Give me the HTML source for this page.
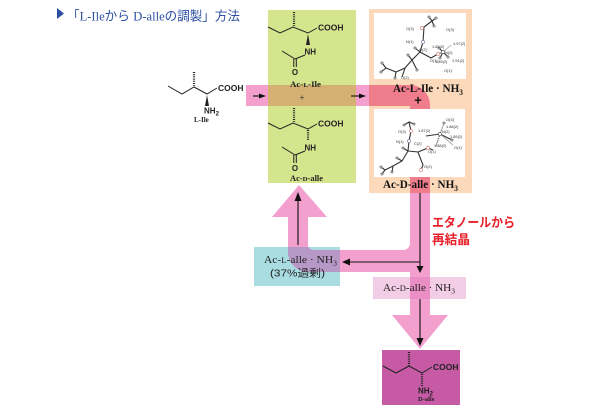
<!DOCTYPE html>
<html><head><meta charset="utf-8"><style>
html,body{margin:0;padding:0;background:#fff;}
svg{display:block}
.s{font-family:"Liberation Sans","Noto Sans CJK JP",sans-serif}
.r{font-family:"Liberation Serif","Noto Serif CJK SC",serif}
.t{font-family:"Liberation Sans",sans-serif;font-size:3.9px;fill:#333}
</style></head><body>
<svg width="610" height="410" viewBox="0 0 610 410" xmlns="http://www.w3.org/2000/svg">
<defs>
<path id="band" d="M246,85 H410 A20,20 0 0 1 430,105 V315 H448 L420,349 L392,315 H410 V272 H308 A20,20 0 0 1 288,252 V217 H272 L299,185 L327,217 H308 V245 A5,5 0 0 0 313,250 H403 A7,7 0 0 0 410,243 V106 H246 Z"/>
<clipPath id="cg"><rect x="268" y="10" width="88" height="173"/></clipPath>
<clipPath id="co"><rect x="369" y="9" width="103" height="184"/></clipPath>
<clipPath id="cb"><rect x="254" y="247" width="86" height="39"/></clipPath>
<clipPath id="cp"><rect x="373" y="277" width="93" height="22"/></clipPath>
</defs>
<rect width="610" height="410" fill="#fff"/>

<!-- title -->
<polygon points="57,8 64,13.5 57,19" fill="#2d4fa3"/>
<text x="67" y="20.5" font-size="13" fill="#2d4fa3" class="s" textLength="173" lengthAdjust="spacingAndGlyphs">「<tspan class="r">L-Ile</tspan>から <tspan class="r">D-alle</tspan>の調製」方法</text>

<!-- boxes -->
<rect x="268" y="10" width="88" height="173" fill="#d5e58e"/>
<rect x="369" y="9" width="103" height="184" fill="#fcd9bb"/>
<rect x="254" y="247" width="86" height="39" fill="#a9dde2"/>
<rect x="373" y="277" width="93" height="22" fill="#f3cde6"/>

<!-- pink band -->
<use href="#band" fill="#f3a0cf"/>
<g clip-path="url(#cg)"><use href="#band" fill="#d4b072"/></g>
<g clip-path="url(#co)"><use href="#band" fill="#ef7d8c"/></g>
<g clip-path="url(#cb)"><use href="#band" fill="#b898c6"/></g>
<g clip-path="url(#cp)"><use href="#band" fill="#ea8ec5"/></g>

<!-- magenta box -->
<rect x="382" y="350" width="78" height="55" fill="#c65aa5"/>

<!-- white ORTEP boxes -->
<rect x="374" y="13" width="92" height="66" fill="#fff"/>
<rect x="374" y="109" width="91" height="68" fill="#fff"/>

<!-- ORTEP 1 -->
<g stroke="#333" stroke-width="1.1" fill="none">
<polyline points="436,18 432,21 424,27 423,42 420,52 412,60 405,68 396,72 386,68"/>
<polyline points="420,52 431,58 438,54"/>
<polyline points="412,60 417,70"/>
<polyline points="405,68 402,77"/>
<line x1="386" y1="68" x2="382" y2="63"/>
<line x1="386" y1="68" x2="381" y2="72"/>
<line x1="396" y1="72" x2="395" y2="78"/>
<line x1="432" y1="21" x2="434" y2="26"/>
<line x1="432" y1="21" x2="429" y2="17"/>
<line x1="420" y1="52" x2="415" y2="48"/>
<line x1="412" y1="60" x2="408" y2="55"/>
<line x1="443" y1="52" x2="451" y2="45" stroke="#bbb"/>
<line x1="443" y1="52" x2="440" y2="58"/>
<line x1="443" y1="52" x2="448" y2="57"/>
<line x1="443" y1="52" x2="439" y2="48"/>
<line x1="438" y1="54" x2="443" y2="52" stroke-dasharray="1,1"/>
</g>
<g fill="#fff" stroke="#444" stroke-width="0.6">
<circle cx="422" cy="28" r="1.6" stroke="#c77"/><circle cx="423" cy="42" r="1.6" stroke="#669"/>
<circle cx="436" cy="18" r="1.1"/><circle cx="434" cy="26" r="1.1"/><circle cx="429" cy="17" r="1.1"/>
<circle cx="381" cy="72" r="1.1"/><circle cx="382" cy="63" r="1.1"/><circle cx="395" cy="78" r="1.1"/>
<circle cx="415" cy="48" r="1.1"/><circle cx="408" cy="55" r="1.1"/><circle cx="417" cy="70" r="1.1"/>
<circle cx="438" cy="54" r="1.6" stroke="#c77"/><circle cx="443" cy="52" r="1.6"/>
<circle cx="440" cy="58" r="1.1"/><circle cx="448" cy="57" r="1.1"/><circle cx="439" cy="48" r="1.1"/>
</g>
<text class="t" x="406" y="30">O(3)</text><text class="t" x="406" y="43">N(1)</text>
<text class="t" x="419" y="51">O(2)'</text><text class="t" x="401" y="79">O(2)</text>
<text class="t" x="430" y="62">O(1)</text><text class="t" x="445" y="54">N(2)</text>
<text class="t" x="446" y="31">O(3)'</text><text class="t" x="444" y="72">O(1)'</text>
<text class="t" x="432" y="48">1.82(2)</text><text class="t" x="453" y="45">1.97(2)</text>
<text class="t" x="452" y="62">1.91(2)</text><text class="t" x="435" y="63">1.89(2)</text>

<!-- ORTEP 2 -->
<g stroke="#333" stroke-width="1.1" fill="none">
<polyline points="404,125 409,122 414,124"/>
<polyline points="409,122 411,131 409,141 408,151 402,161 393,166 385,170"/>
<polyline points="408,151 418,152 423,165 421,170"/>
<polyline points="418,152 428,148 433,150"/>
<line x1="385" y1="170" x2="381" y2="167"/><line x1="385" y1="170" x2="382" y2="174"/>
<line x1="393" y1="166" x2="392" y2="172"/><line x1="402" y1="161" x2="397" y2="158"/>
<line x1="408" y1="151" x2="403" y2="148"/>
<line x1="440" y1="134" x2="444" y2="123" stroke="#aaa"/>
<line x1="440" y1="134" x2="452" y2="140"/>
<line x1="440" y1="134" x2="426" y2="136"/>
<line x1="440" y1="134" x2="436" y2="146" stroke-dasharray="1,1"/>
<line x1="440" y1="134" x2="453" y2="145" stroke="#aaa"/>
</g>
<g fill="#fff" stroke="#444" stroke-width="0.6">
<circle cx="411" cy="131" r="1.6" stroke="#c77"/><circle cx="409" cy="141" r="1.6" stroke="#669"/>
<circle cx="404" cy="125" r="1.1"/><circle cx="414" cy="124" r="1.1"/>
<circle cx="381" cy="167" r="1.1"/><circle cx="382" cy="174" r="1.1"/><circle cx="392" cy="172" r="1.1"/>
<circle cx="397" cy="158" r="1.1"/><circle cx="403" cy="148" r="1.1"/>
<circle cx="428" cy="148" r="1.6" stroke="#c77"/><circle cx="421" cy="170" r="1.6" stroke="#c77"/>
<circle cx="440" cy="134" r="1.6"/><circle cx="444" cy="123" r="1.1"/><circle cx="452" cy="140" r="1.1"/>
</g>
<text class="t" x="398" y="133">O(3)</text><text class="t" x="396" y="143">N(1)</text>
<text class="t" x="414" y="145">C(2)'</text><text class="t" x="424" y="168">O(2)</text>
<text class="t" x="428" y="153">O(1)</text><text class="t" x="442" y="133">N(2)</text>
<text class="t" x="446" y="121">O(3)'</text><text class="t" x="446" y="128">1.88(2)</text>
<text class="t" x="418" y="132">1.87(2)</text><text class="t" x="450" y="138">1.89(2)</text>
<text class="t" x="454" y="149">O(1)'</text><text class="t" x="434" y="147">1.88(2)</text>

<!-- L-Ile molecule -->
<g stroke="#222" stroke-width="1" fill="none">
<polyline points="168,86 182,94 194,87 207,94 217,88"/>
<line x1="194" y1="72" x2="194" y2="86" stroke-width="2.2" stroke-dasharray="1,1.2"/>
</g>
<polygon points="207,95 205,106 209,106" fill="#222"/>
<text x="218" y="91" class="s" font-size="8.5" font-weight="bold" fill="#222">COOH</text>
<text x="204" y="113.5" class="s" font-size="8" font-weight="bold" fill="#222">NH<tspan font-size="6" dy="2">2</tspan></text>
<text x="194" y="122" class="r" font-size="7" font-weight="bold" fill="#222">L-Ile</text>

<!-- green box molecules -->
<g id="m1">
<g stroke="#222" stroke-width="1" fill="none">
<polyline points="268,27 280,33 293,27 308,33 317,28"/>
<line x1="294" y1="12" x2="294" y2="26" stroke-width="2.2" stroke-dasharray="1,1.2"/>
<line x1="305" y1="55" x2="295" y2="59"/>
<line x1="295" y1="59" x2="282" y2="51"/>
<line x1="293.8" y1="59" x2="293.8" y2="67"/>
<line x1="296.3" y1="59" x2="296.3" y2="67"/>
</g>
<text x="318" y="30.5" class="s" font-size="8.5" font-weight="bold" fill="#222">COOH</text>
<text x="304.5" y="54.5" class="s" font-size="8" font-weight="bold" fill="#222">NH</text>
<text x="295" y="75" class="s" font-size="8" font-weight="bold" fill="#222" text-anchor="middle">O</text>
</g>
<polygon points="308,34 306,45 310,45" fill="#222"/>
<text x="290" y="87" class="r" font-size="8" font-weight="bold" fill="#222" textLength="31" lengthAdjust="spacingAndGlyphs">Ac-<tspan font-size="6.5">L</tspan>-Ile</text>
<use href="#m1" transform="translate(0,96)"/>
<line x1="308" y1="130" x2="308" y2="141" stroke="#222" stroke-width="2.2" stroke-dasharray="1,1.2"/>
<text x="290" y="181" class="r" font-size="8" font-weight="bold" fill="#222" textLength="33" lengthAdjust="spacingAndGlyphs">Ac-<tspan font-size="6.5">D</tspan>-alle</text>
<text x="302" y="100" class="s" font-size="8" fill="#333" text-anchor="middle">+</text>

<!-- orange box labels -->
<text x="393" y="92" class="r" font-size="12" font-weight="bold" fill="#111" textLength="70" lengthAdjust="spacingAndGlyphs">Ac-L-Ile · NH<tspan font-size="8" dy="3">3</tspan></text>
<text x="418" y="104.5" class="s" font-size="13" font-weight="bold" fill="#111" text-anchor="middle">+</text>
<text x="383" y="188" class="r" font-size="12" font-weight="bold" fill="#111" textLength="75" lengthAdjust="spacingAndGlyphs">Ac-D-alle · NH<tspan font-size="8" dy="3">3</tspan></text>

<!-- blue box labels -->
<text x="264" y="263" class="r" font-size="10.5" fill="#222" textLength="73" lengthAdjust="spacingAndGlyphs">Ac-<tspan font-size="8">L</tspan>-alle · NH<tspan font-size="7" dy="2.5">3</tspan></text>
<text x="270" y="276.5" class="s" font-size="10.5" fill="#222" textLength="55" lengthAdjust="spacingAndGlyphs">(37%過剰)</text>

<!-- light pink label -->
<text x="383" y="291" class="r" font-size="10.5" fill="#222" textLength="72" lengthAdjust="spacingAndGlyphs">Ac-<tspan font-size="8">D</tspan>-alle · NH<tspan font-size="7" dy="2.5">3</tspan></text>

<!-- red text -->
<text x="432" y="227" class="s" font-size="13" font-weight="bold" fill="#e8202a" textLength="83" lengthAdjust="spacingAndGlyphs">エタノールから</text>
<text x="432" y="244" class="s" font-size="13" font-weight="bold" fill="#e8202a" textLength="38" lengthAdjust="spacingAndGlyphs">再結晶</text>

<!-- black arrows -->
<g stroke="#111" stroke-width="1.1" fill="none">
<line x1="253" y1="96" x2="260" y2="96"/>
<line x1="351" y1="96" x2="360" y2="96"/>
<line x1="420" y1="193" x2="420" y2="267"/>
<line x1="420" y1="262" x2="349" y2="262"/>
<line x1="298" y1="245" x2="298" y2="200"/>
<line x1="420" y1="299" x2="420" y2="339"/>
</g>
<g fill="#111">
<polygon points="259,93.5 266,96 259,98.5"/>
<polygon points="359,93.5 366,96 359,98.5"/>
<polygon points="416.5,266 420,273 423.5,266"/>
<polygon points="350,258.5 342,262 350,265.5"/>
<polygon points="294.5,201 298,192 301.5,201"/>
<polygon points="416.5,338 420,346 423.5,338"/>
</g>

<!-- D-alle molecule -->
<g stroke="#222" stroke-width="1" fill="none">
<polyline points="383,366 396,373 409,366 422,373 432,367"/>
<line x1="409" y1="352" x2="409" y2="366" stroke-width="2.2" stroke-dasharray="1,1.2"/>
<line x1="422" y1="374" x2="422" y2="386" stroke-width="2.2" stroke-dasharray="1,1.2"/>
</g>
<text x="433" y="370" class="s" font-size="8.5" font-weight="bold" fill="#222">COOH</text>
<text x="418" y="393.5" class="s" font-size="8" font-weight="bold" fill="#222">NH<tspan font-size="6" dy="2">2</tspan></text>
<text x="418" y="401" class="r" font-size="6.5" font-weight="bold" fill="#222">D-alle</text>
</svg>
</body></html>
